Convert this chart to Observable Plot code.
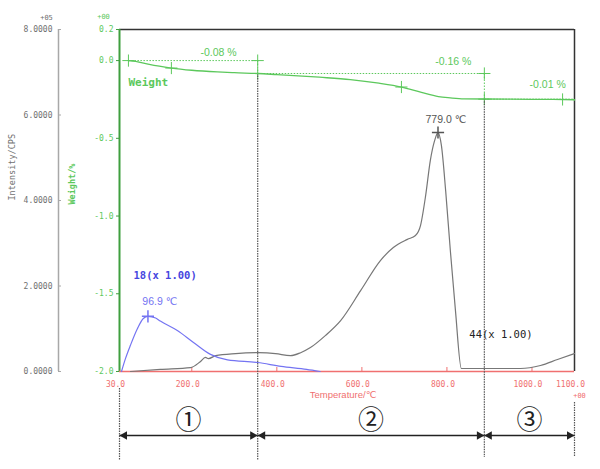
<!DOCTYPE html>
<html><head><meta charset="utf-8">
<script src="https://cdn.jsdelivr.net/npm/d3@7"></script>
<script src="https://cdn.jsdelivr.net/npm/@observablehq/plot@0.6"></script>
<style>body{margin:0;background:#fff} svg{display:block}</style>
</head><body><div id="chart"></div>
<script>
// ---- data ----
const weightT   = [51, 68, 100, 152, 200, 260, 300, 355, 400, 450, 500, 573, 640, 693, 740, 780, 808, 840, 888, 950, 1000, 1050, 1100];
const weightPct = [0.0, -0.005, -0.025, -0.048, -0.062, -0.073, -0.078, -0.083, -0.090, -0.098, -0.107, -0.122, -0.145, -0.170, -0.205, -0.232, -0.240, -0.246, -0.247, -0.248, -0.249, -0.250, -0.252];

const h2oT = [34.7, 44, 56, 72, 86, 96.9, 115, 126, 166, 204, 244, 284, 355, 410, 470, 502];
const h2oI = [0.0, 0.30, 0.62, 1.00, 1.24, 1.29, 1.25, 1.18, 0.96, 0.68, 0.40, 0.27, 0.21, 0.12, 0.05, 0.0];

const co2T = [56, 126, 197, 220, 232, 239, 256, 303, 357, 397, 432, 456, 479, 514, 550, 597, 644, 674, 707, 726, 738, 750, 761, 771, 779, 787, 797, 808, 820, 834, 902, 973, 1020, 1060, 1100];
const co2I = [0.0, 0.05, 0.09, 0.23, 0.33, 0.30, 0.37, 0.42, 0.44, 0.42, 0.37, 0.44, 0.56, 0.84, 1.19, 1.89, 2.60, 2.90, 3.09, 3.18, 3.42, 4.12, 4.94, 5.40, 5.59, 5.29, 4.23, 2.83, 1.43, 0.07, 0.07, 0.07, 0.14, 0.28, 0.42];

const tempTicks = [200, 400, 600, 800, 1000];
const tempLabelValues = [30, 200, 400, 600, 800, 1000, 1100];
const tempLabels = ["30.0", "200.0", "400.0", "600.0", "800.0", "1000.0", "1100.0"];
const weightTicks = [0.2, 0.0, -0.5, -1.0, -1.5, -2.0];
const weightTickLabels = ["0.2", "0.0", "-0.5", "-1.0", "-1.5", "-2.0"];
const intensityTicks = [0, 2, 4, 6, 8];
const intensityTickLabels = ["0.0000", "2.0000", "4.0000", "6.0000", "8.0000"];

const stageBounds = [30, 355, 888, 1100];
const stageLabels = ["①", "②", "③"];
const stepLevels = [0.0, -0.083, -0.248, -0.258];
const stepLabels = ["-0.08 %", "-0.16 %", "-0.01 %"];
const stepLabelT = [263, 815, 1037];
const stepMarkT = [51, 152, 355, 355, 693, 888, 888, 1072];
const stepMarkW = [0.0, -0.048, 0.0, -0.083, -0.170, -0.083, -0.248, -0.250];

const h2oPeakT = 96.9, h2oPeakI = 1.29;
const co2PeakT = 779.0, co2PeakI = 5.59;

// ---- layout ----
const W = 600, H = 469;
const mL = 119, mR = 26, mT = 29, mB = 98;
const xDom = [30, 1100], yDom = [-2.0, 0.2], iMax = 8;
const pxPerUnit = (H - mT - mB) / (yDom[1] - yDom[0]);
const pxPerT = (W - mL - mR) / (xDom[1] - xDom[0]);
const below = px => yDom[0] - px / pxPerUnit;          // px below the bottom axis
const toW = I => yDom[0] + I * (yDom[1] - yDom[0]) / iMax; // intensity -> weight scale

const zip = (a, b) => a.map((v, i) => ({x: v, y: b[i]}));
const weight = zip(weightT, weightPct);
const h2o = h2oT.map((t, i) => ({x: t, y: toW(h2oI[i])}));
const co2 = co2T.map((t, i) => ({x: t, y: toW(co2I[i])}));

const GREEN = "#5cc85c", GREEN_AX = "#3f9f3f", RED = "#f07070", GRAY_AX = "#a8a8a8", GRAY_TXT = "#707070";
const BLUE = "#7474f2", BLUE_TXT = "#4646e0", CO2 = "#777777";
const MONO = "DejaVu Sans Mono, Liberation Mono, monospace";
const SANS = "Liberation Sans, DejaVu Sans, sans-serif";

const segs = stageLabels.map((s, i) => ({a: stageBounds[i], b: stageBounds[i + 1], label: s}));
const steps = stepLabels.map((s, i) => ({a: i === 0 ? weightT[0] : stageBounds[i], b: stageBounds[i + 1], lv: stepLevels[i], lv2: stepLevels[i + 1], label: s, lt: stepLabelT[i]}));
const stepDy = [-8, -12, -15];

const chart = Plot.plot({
  width: W, height: H,
  marginLeft: mL, marginRight: mR, marginTop: mT, marginBottom: mB,
  x: {domain: xDom, axis: null},
  y: {domain: yDom, axis: null},
  style: {fontFamily: MONO, fontSize: "8px", background: "#fff", overflow: "visible"},
  marks: [
    // frame
    Plot.ruleY([yDom[1]], {stroke: "#333", strokeWidth: 1.5}),
    Plot.ruleX([xDom[1]], {stroke: "#333", strokeWidth: 1.5}),
    // intensity axis (left, gray)
    Plot.ruleX([xDom[0]], {y1: yDom[0], y2: yDom[1], dx: -61, stroke: GRAY_AX, strokeWidth: 1.5}),
    Plot.ruleY(intensityTicks, {y: d => toW(d), x1: xDom[0], x2: xDom[0] + 3 / pxPerT, dx: -61, stroke: GRAY_AX}),
    Plot.text(intensityTicks, {x: xDom[0], y: d => toW(d), text: (d, i) => intensityTickLabels[i], textAnchor: "end", dx: -67, fill: GRAY_TXT, fontSize: 8}),
    Plot.text(["+05"], {x: xDom[0], y: yDom[1], text: d => d, dx: -73, dy: -12, fill: GRAY_TXT, fontSize: 7}),
    Plot.text(["Intensity/CPS"], {frameAnchor: "left", text: d => d, dx: -107, rotate: -90, fill: GRAY_TXT, fontSize: 8.5}),
    // weight axis (green)
    Plot.ruleX([xDom[0]], {y1: yDom[0], y2: yDom[1], stroke: GREEN_AX, strokeWidth: 2}),
    Plot.ruleY(weightTicks, {y: d => d, x1: xDom[0] - 3 / pxPerT, x2: xDom[0], stroke: GREEN_AX}),
    Plot.text(weightTicks, {x: xDom[0], y: d => d, text: (d, i) => weightTickLabels[i], textAnchor: "end", dx: -6, fill: GREEN, fontSize: 8}),
    Plot.text(["+00"], {x: xDom[0], y: yDom[1], text: d => d, dx: -16, dy: -13, fill: GREEN, fontSize: 7}),
    Plot.text(["Weight/%"], {frameAnchor: "left", text: d => d, dx: -47, dy: 4, rotate: -90, fill: GREEN, fontSize: 8.5, fontWeight: "bold"}),
    // temperature axis (red)
    Plot.ruleY([yDom[0]], {stroke: RED, strokeWidth: 1.5}),
    Plot.ruleX(tempTicks, {y1: yDom[0], y2: yDom[0] + 4 / pxPerUnit, stroke: RED}),
    Plot.text(tempLabelValues, {x: d => d, y: yDom[0], text: (d, i) => tempLabels[i], dy: 13, dx: -4, fill: RED, fontSize: 8}),
    Plot.text(["+00"], {x: xDom[1], y: yDom[0], text: d => d, dx: 5, dy: 24, fill: RED, fontSize: 7}),
    Plot.text(["Temperature/℃"], {frameAnchor: "bottom", text: d => d, dx: -4, dy: 26, fill: RED, fontSize: 9.5, fontFamily: SANS}),

    // weight step annotations
    Plot.link(steps, {x1: "a", x2: "b", y1: "lv", y2: "lv", stroke: GREEN, strokeDasharray: "1.5,1.5"}),
    Plot.link(steps, {x1: "b", x2: "b", y1: "lv", y2: "lv2", stroke: GREEN, strokeDasharray: "1.5,1.5"}),
    ...steps.map((s, i) => Plot.text([s], {x: "lt", y: "lv", text: "label", dy: stepDy[i], fill: GREEN, fontSize: 10.5, fontFamily: SANS})),
    Plot.dot(zip(stepMarkT, stepMarkW), {x: "x", y: "y", symbol: "plus", r: 4, stroke: GREEN, strokeWidth: 1}),
    Plot.text(["Weight"], {x: weightT[0], y: weightPct[0], text: d => d, textAnchor: "start", dy: 22, fill: GREEN, fontSize: 11, fontWeight: "bold"}),

    // stage separators
    Plot.ruleX([stageBounds[0]], {y1: below(17), y2: below(89), stroke: "#555", strokeDasharray: "1.5,1", strokeWidth: 1.2}),
    Plot.ruleX([stageBounds[1]], {y1: stepLevels[1], y2: below(89), stroke: "#555", strokeDasharray: "1.5,1", strokeWidth: 1.2}),
    Plot.ruleX([stageBounds[2]], {y1: stepLevels[2], y2: below(86), stroke: "#555", strokeDasharray: "1.5,1", strokeWidth: 1.2}),
    Plot.ruleX([stageBounds[3]], {y1: below(31), y2: below(86), stroke: "#555", strokeDasharray: "1.5,1", strokeWidth: 1.2}),

    // curves
    Plot.line(weight, {x: "x", y: "y", stroke: GREEN, strokeWidth: 1.3, curve: "monotone-x"}),
    Plot.line(co2, {x: "x", y: "y", stroke: CO2, strokeWidth: 1.2, curve: "monotone-x"}),
    Plot.line(h2o, {x: "x", y: "y", stroke: BLUE, strokeWidth: 1.2, curve: "monotone-x"}),
    Plot.dot([{x: h2oPeakT, y: toW(h2oPeakI)}], {x: "x", y: "y", symbol: "plus", r: 4, stroke: BLUE}),
    Plot.dot([{x: co2PeakT, y: toW(co2PeakI)}], {x: "x", y: "y", symbol: "plus", r: 4, stroke: "#555"}),
    Plot.text([h2oPeakT], {x: d => d, y: toW(h2oPeakI), text: d => `${d.toFixed(1)} ℃`, dx: 12, dy: -15, fill: BLUE, fontSize: 10.5, fontFamily: SANS}),
    Plot.text([co2PeakT], {x: d => d, y: toW(co2PeakI), text: d => `${d.toFixed(1)} ℃`, dx: 8, dy: -13, fill: "#555", fontSize: 10.5, fontFamily: SANS}),
    Plot.text(["18(x 1.00)"], {x: xDom[0], y: toW(h2oPeakI), text: d => d, textAnchor: "start", dx: 14, dy: -41, fill: BLUE_TXT, fontSize: 10.5, fontWeight: "bold"}),
    Plot.text(["44(x 1.00)"], {x: stageBounds[2], y: yDom[0], text: d => d, textAnchor: "start", dx: -15, dy: -37, fill: "#222", fontSize: 10.5}),

    // stage arrows & numbers
    Plot.link(segs, {x1: "a", x2: "b", y1: below(64), y2: below(64), stroke: "#222", strokeWidth: 1.5}),
    Plot.dot(segs, {x: "a", y: below(64), symbol: "triangle", r: 3.2, rotate: -90, dx: 5, fill: "#222"}),
    Plot.dot(segs, {x: "b", y: below(64), symbol: "triangle", r: 3.2, rotate: 90, dx: -5, fill: "#222"}),
    Plot.text(segs, {x: d => (d.a + d.b) / 2, y: below(49), text: "label", fill: "#222", fontSize: 26, fontFamily: "Noto Sans CJK JP, DejaVu Sans, sans-serif"})
  ]
});
document.getElementById("chart").appendChild(chart);
</script>
</body></html>
